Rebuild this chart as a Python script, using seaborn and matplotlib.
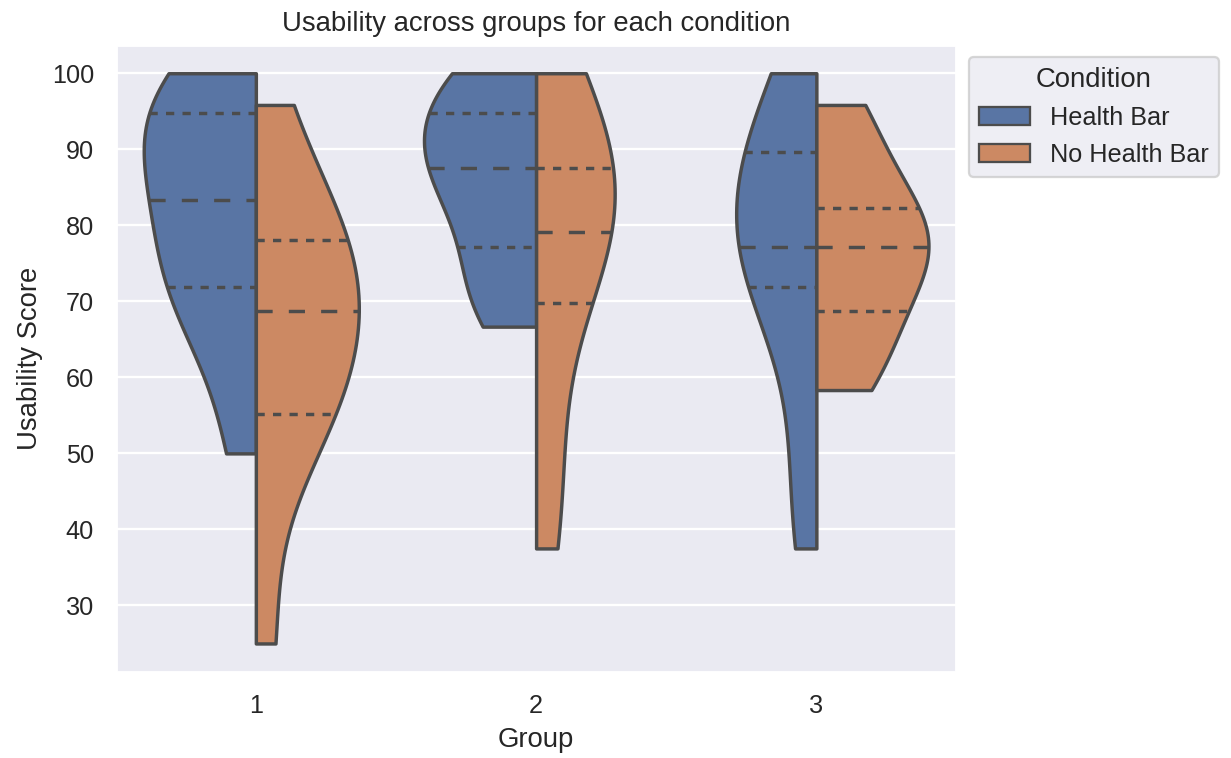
import numpy as np
import pandas as pd
import matplotlib
matplotlib.use("Agg")
import matplotlib.pyplot as plt
import seaborn as sns

# Usability scores (0-100) per participant, by group and condition
groups = [1, 2, 3]
conditions = ["Health Bar", "No Health Bar"]

health_bar_g1 = [50.0, 66.67, 70.83, 75.0, 79.17, 87.5, 91.67, 95.83, 95.83, 100.0]
no_health_bar_g1 = [25.0, 54.17, 54.17, 58.33, 66.67, 70.83, 75.0, 79.17, 79.17, 95.83]
health_bar_g2 = [66.67, 70.83, 75.0, 83.33, 87.5, 87.5, 91.67, 95.83, 100.0, 100.0]
no_health_bar_g2 = [37.5, 50.0, 66.67, 79.17, 79.17, 79.17, 87.5, 87.5, 95.83, 100.0]
health_bar_g3 = [37.5, 50.0, 70.83, 75.0, 75.0, 79.17, 83.33, 91.67, 91.67, 100.0]
no_health_bar_g3 = [58.33, 62.5, 66.67, 75.0, 75.0, 79.17, 79.17, 83.33, 91.67, 95.83]

scores = {
    (1, "Health Bar"): health_bar_g1,
    (1, "No Health Bar"): no_health_bar_g1,
    (2, "Health Bar"): health_bar_g2,
    (2, "No Health Bar"): no_health_bar_g2,
    (3, "Health Bar"): health_bar_g3,
    (3, "No Health Bar"): no_health_bar_g3,
}

rows = []
for (grp, cond), vals in scores.items():
    for v in vals:
        rows.append({"Group": grp, "Condition": cond, "Usability Score": v})
df = pd.DataFrame(rows)

sns.set_theme(style="darkgrid")
plt.rcParams["font.family"] = ["Liberation Sans", "DejaVu Sans"]

DPI = 165
fig, ax = plt.subplots(figsize=(1231 / DPI, 758 / DPI), dpi=DPI)
fig.subplots_adjust(left=0.094, right=0.777, bottom=0.1135, top=0.941)

# Violins are scaled within each group, so the two halves of a group share one density scale
for i, grp in enumerate(groups):
    sns.violinplot(
        data=df[df["Group"] == grp], x="Group", y="Usability Score",
        hue="Condition", order=groups, hue_order=conditions,
        split=True, inner="quart", cut=0,
        density_norm="area", common_norm=True,
        linewidth=1.5, legend="auto" if i == 0 else False, ax=ax,
    )

# Quartile lines: short dashes for Q1/Q3, longer dashes for the median
for idx, line in enumerate(ax.lines):
    line.set_linewidth(1.5)
    line.set_dashes([4.7, 4.7] if idx % 3 == 1 else [2.4, 2.4])

ax.set_title("Usability across groups for each condition")
ax.set_xlabel("Group")
ax.set_ylabel("Usability Score")
sns.move_legend(ax, "upper left", bbox_to_anchor=(1, 1), title="Condition")
for handle in ax.get_legend().legend_handles:
    handle.set_linewidth(1.0)

fig.savefig("out.png", dpi=DPI)
